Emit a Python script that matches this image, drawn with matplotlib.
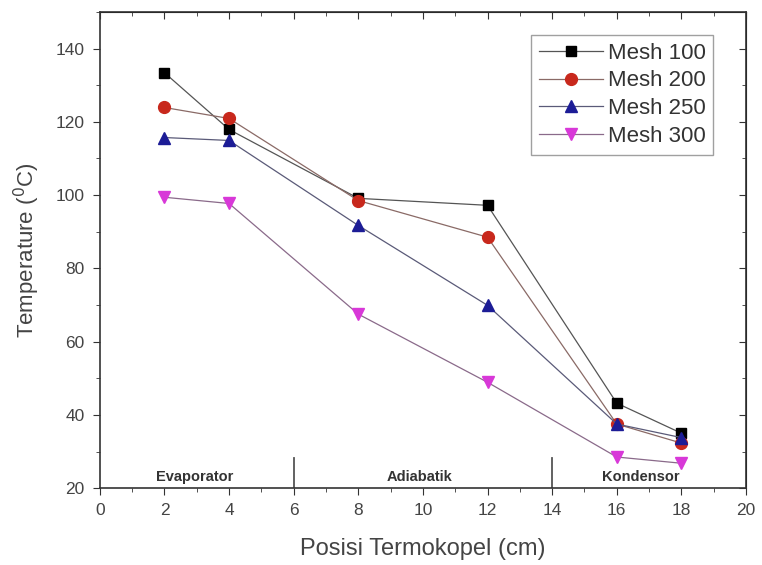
import matplotlib
matplotlib.use("Agg")
import matplotlib.pyplot as plt
from matplotlib.ticker import MultipleLocator

plt.rcParams['font.family'] = ['Liberation Sans', 'DejaVu Sans']

x = [2, 4, 8, 12, 16, 18]
mesh100 = [133.4, 117.9, 99.1, 97.2, 43.2, 35.0]
mesh200 = [123.9, 120.9, 98.5, 88.5, 37.5, 32.3]
mesh250 = [115.7, 114.9, 91.7, 69.9, 37.5, 33.8]
mesh300 = [99.4, 97.7, 67.5, 48.9, 28.5, 26.8]
labels = ['Mesh 100', 'Mesh 200', 'Mesh 250', 'Mesh 300']
regions = ['Evaporator', 'Adiabatik', 'Kondensor']
region_x = [2.95, 9.9, 16.75]
dividers = [6, 14]

fig = plt.figure(figsize=(7.62, 5.65), dpi=100)
ax = fig.add_axes([0.131, 0.136, 0.848, 0.843])

styles = [('s', 'black', '#555555', 7),
          ('o', '#c8281c', '#8a6a66', 8.5),
          ('^', '#1c1c96', '#5a5a78', 8.5),
          ('v', '#d838d8', '#8a6a8a', 8.5)]
for y, lab, (m, c, lc, ms) in zip([mesh100, mesh200, mesh250, mesh300], labels, styles):
    ax.plot(x, y, color=lc, lw=0.9, marker=m, ms=ms,
            markerfacecolor=c, markeredgecolor=c, label=lab)

for d in dividers:
    ax.plot([d, d], [20, 28.2], color='#555555', lw=1.3)
for t, xp in zip(regions, region_x):
    ax.text(xp, 21.0, t, ha='center', va='bottom', fontsize=10.5,
            fontweight='bold', color='#333333')

ax.set_xlim(0, 20)
ax.set_ylim(20, 150)
ax.xaxis.set_major_locator(MultipleLocator(2))
ax.xaxis.set_minor_locator(MultipleLocator(1))
ax.yaxis.set_major_locator(MultipleLocator(20))
ax.yaxis.set_minor_locator(MultipleLocator(10))
ax.tick_params(which='both', direction='out', top=False, right=False,
               labelsize=12.5, labelcolor='#444444', color='#333333')
ax.tick_params(which='major', length=5, pad=6)
ax.tick_params(which='minor', length=3)

ax2 = ax.secondary_xaxis('top')
ax2.xaxis.set_major_locator(MultipleLocator(2))
ax2.xaxis.set_minor_locator(MultipleLocator(1))
ax2.tick_params(which='both', direction='in', labeltop=False, color='#333333')
ax2.tick_params(which='major', length=5)
ax2.tick_params(which='minor', length=3)
ay2 = ax.secondary_yaxis('right')
ay2.yaxis.set_major_locator(MultipleLocator(20))
ay2.yaxis.set_minor_locator(MultipleLocator(10))
ay2.tick_params(which='both', direction='in', labelright=False, color='#333333')
ay2.tick_params(which='major', length=5)
ay2.tick_params(which='minor', length=3)

for s in ax.spines.values():
    s.set_color('#333333')
    s.set_linewidth(1.2)

ax.set_xlabel('Posisi Termokopel (cm)', fontsize=17, color='#444444', labelpad=14)
ax.set_ylabel(r'Temperature ($^{0}$C)', fontsize=16, color='#444444', labelpad=10)

leg = ax.legend(loc='upper right', bbox_to_anchor=(0.936, 0.938),
                bbox_transform=fig.transFigure, fontsize=16, frameon=True,
                fancybox=False, edgecolor='#888888', handlelength=2.9,
                borderpad=0.35, labelspacing=0.3, handletextpad=0.2,
                borderaxespad=0)
leg.get_frame().set_linewidth(1.0)
for t in leg.get_texts():
    t.set_color('#333333')

fig.savefig('out.png', dpi=100)
